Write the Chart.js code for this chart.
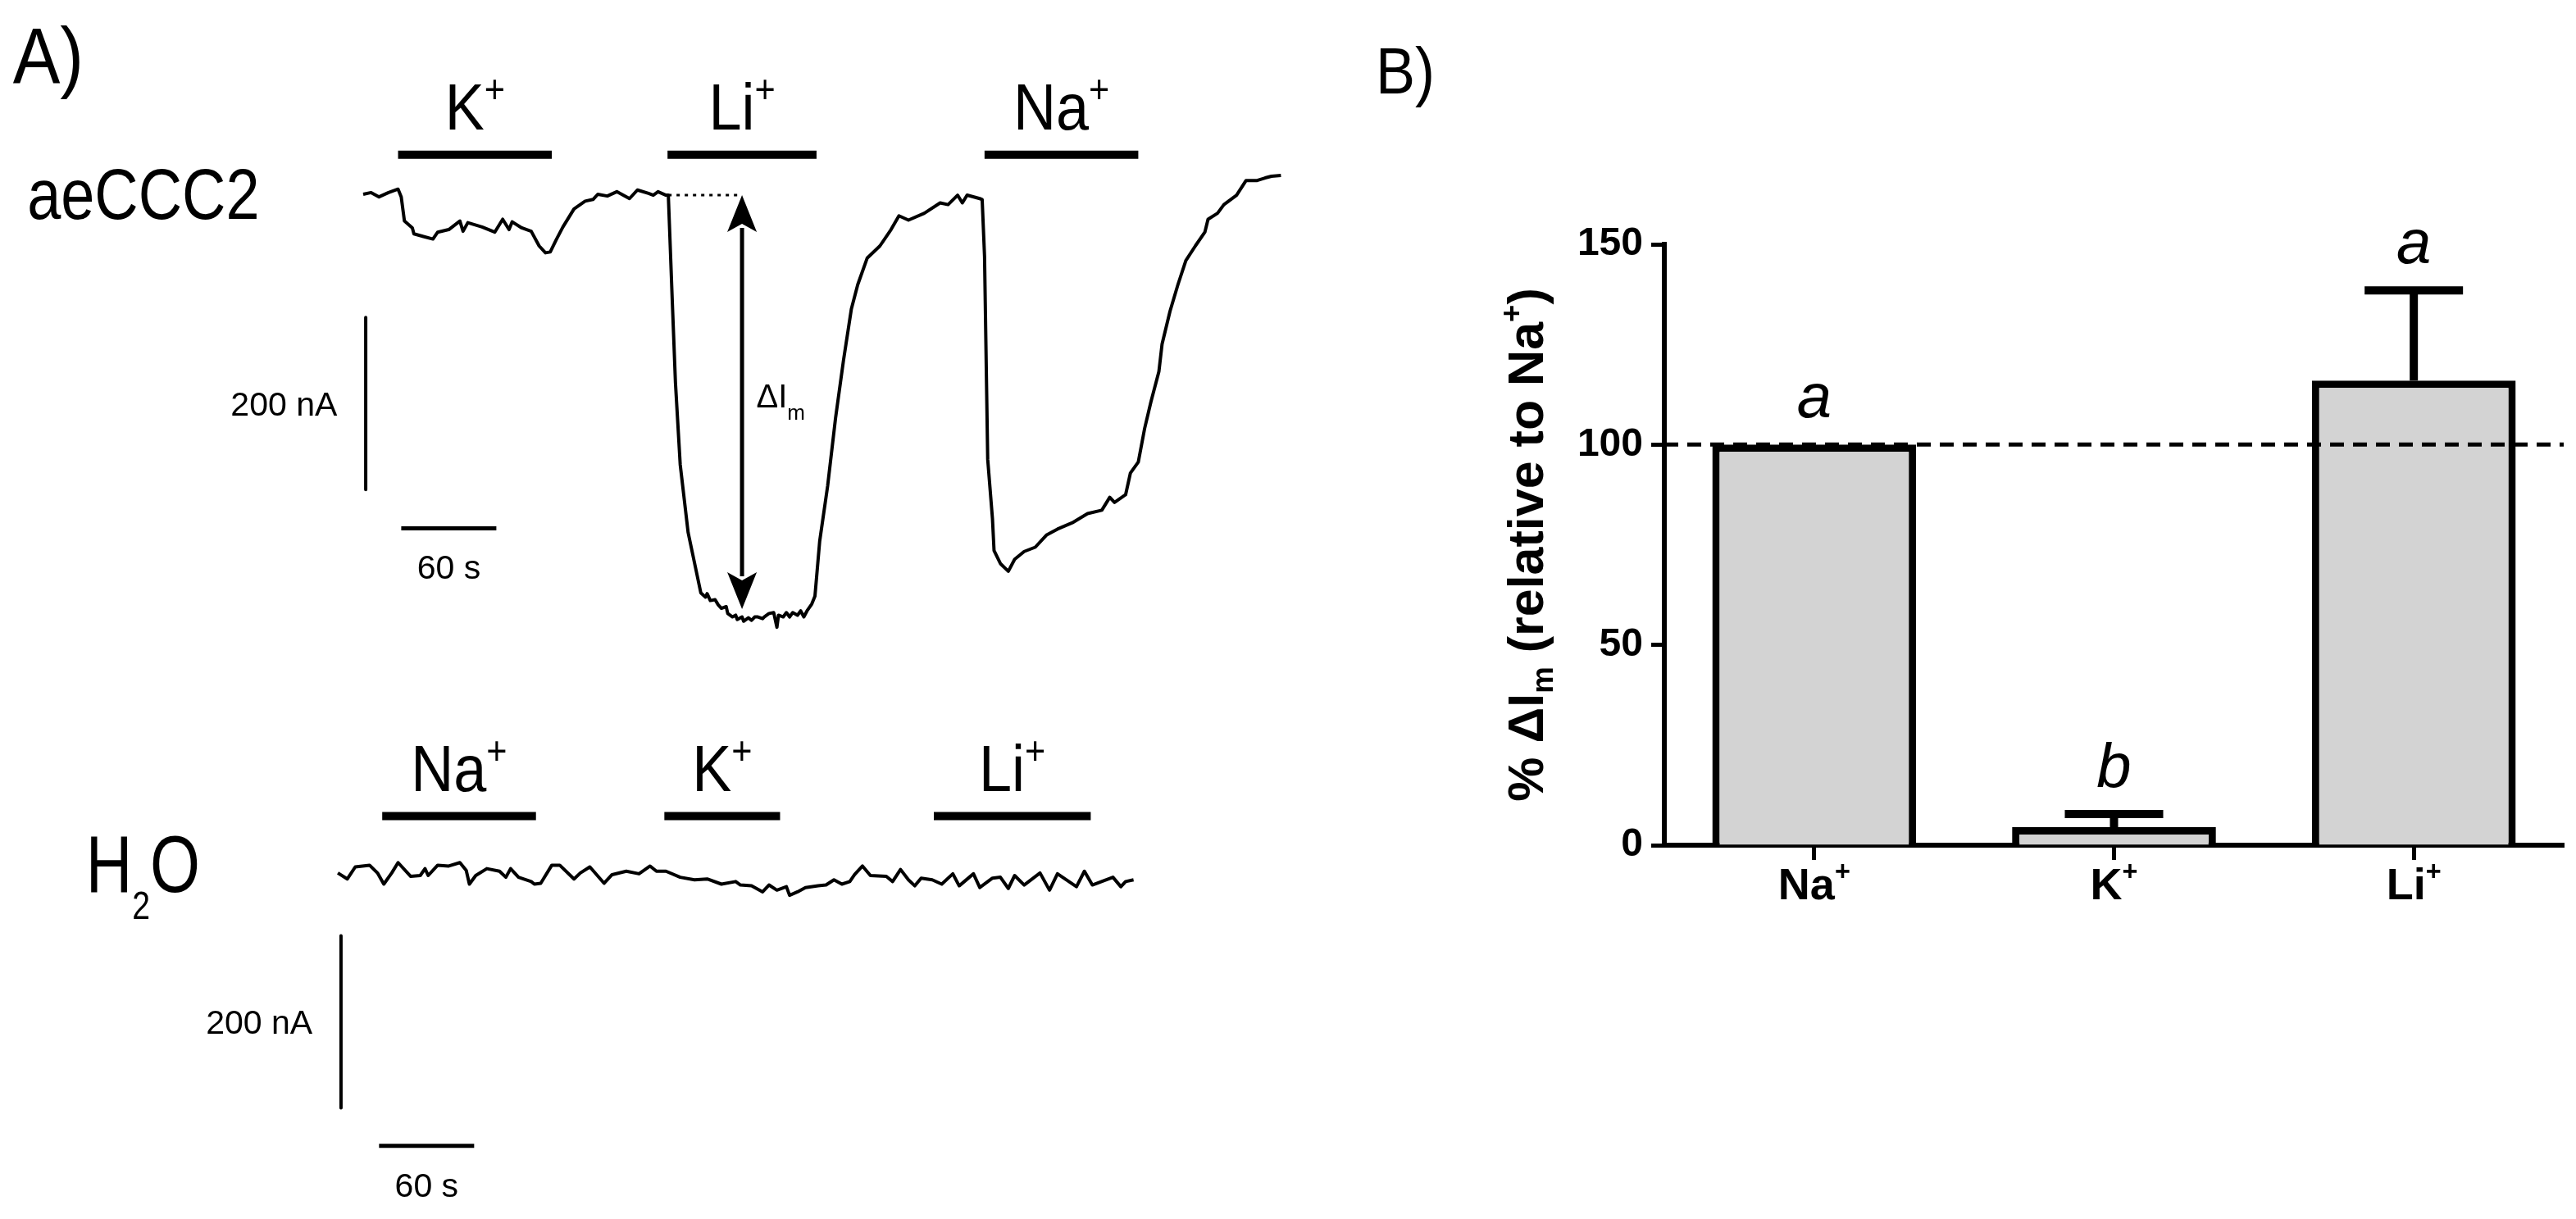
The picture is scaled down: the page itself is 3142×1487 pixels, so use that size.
<!DOCTYPE html>
<html>
<head>
<meta charset="utf-8">
<script src="https://cdn.jsdelivr.net/npm/chart.js@4.4.1/dist/chart.umd.min.js"></script>
<style>
  html, body { margin: 0; padding: 0; background: #fff; }
  body { width: 3142px; height: 1487px; position: relative; overflow: hidden; }
  canvas { position: absolute; }
</style>
</head>
<body>
<canvas id="traceTop" width="1640" height="790" style="left:0;top:0"></canvas>
<canvas id="traceH2O" width="1640" height="697" style="left:0;top:790px"></canvas>
<canvas id="barChart" width="1492" height="1487" style="left:1650px;top:0"></canvas>
<script>
// ========== Dados ==========
// Painel A: corrente (nA) x tempo (s), oócito aeCCC2
const aeCCC2Trace = [
  [0,0],[5,2],[10,-3],[16,2],[22,6],[24,-3],[26,-31],[31,-39],[32,-46],[38,-49],[44,-52],[47,-44],
  [54,-41],[61,-31],[63,-43],[66,-33],[75,-38],[83,-44],[88,-29],[92,-41],[94,-32],[100,-39],
  [106,-43],[111,-60],[115,-68],[118,-67],[122,-52],[126,-38],[133,-17],[140,-8],[145,-6],[148,0],
  [154,-2],[160,3],[168,-5],[173,5],[180,1],[183,-1],[186,3],[191,-1],[192.5,-1],
  [195,-124],[197,-219],[200,-314],[205,-393],[213,-463],[216,-468],[217,-464],[219,-472],[222,-471],
  [224,-477],[226,-481],[229,-479],[230,-487],[233,-491],[235,-489],[236,-494],[239,-491],[240,-496],
  [243,-492],[245,-495],[247,-491],[249,-491],[252,-493],[253,-491],[256,-487],[259,-486],[261,-503],
  [262,-489],[265,-491],[267,-486],[269,-491],[271,-486],[274,-489],[276,-484],[278,-491],[280,-484],
  [283,-476],[285,-467],
  [288,-403],[293,-339],[298,-260],[303,-193],[308,-133],[312,-105],[318,-74],[326,-60],[333,-41],
  [338,-25],[344,-30],[354,-22],[364,-10],[369,-12],[375,-1],[378,-10],[381,-1],[389,-5],[390.5,-6],
  [392,-72],[394,-308],[397,-377],[398,-414],[402,-429],[407,-438],[411,-424],[417,-415],[424,-410],
  [431,-396],[438,-389],[448,-381],[457,-371],[466,-367],[471,-352],[474,-358],[481,-349],[484,-324],
  [489,-311],[493,-272],[497,-241],[502,-206],[504,-174],[509,-136],[514,-105],[519,-77],[525,-60],
  [531,-44],[533,-29],[539,-22],[543,-12],[551,-1],[557,16],[564,16],[569,19],[573,21],[579,22]
];
// Painel A: oócito injetado com água
const h2oTrace = [
  [-16,3],[-10,-4],[-5,10],[4,12],[9,3],[13,-10],[18,3],[22,15],[30,-1],[36,0],[39,8],[41,0],
  [47,12],[54,11],[61,15],[65,6],[67,-10],[71,0],[78,8],[86,5],[90,-2],[93,8],[98,-2],[106,-7],
  [108,-10],[112,-9],[119,12],[124,12],[133,-4],[137,3],[143,10],[152,-9],[157,1],[166,5],[174,2],
  [181,11],[185,5],[191,5],[200,-2],[209,-5],[217,-4],[226,-10],[235,-7],[238,-11],[245,-12],
  [252,-19],[256,-11],[261,-17],[267,-13],[269,-23],[274,-19],[279,-14],[287,-12],[292,-11],
  [297,-5],[302,-10],[307,-7],[310,1],[315,11],[320,0],[330,-1],[334,-7],[339,7],[344,-5],
  [348,-12],[352,-3],[359,-5],[365,-10],[372,2],[376,-12],[385,2],[389,-14],[397,-3],[402,-2],
  [407,-15],[411,0],[417,-11],[427,3],[433,-17],[438,2],[450,-13],[455,5],[460,-11],[473,-2],
  [478,-13],[481,-7],[486,-5]
];
// aplicações de íons: [íon, início (s), fim (s)]
const aeCCC2Pulses = [['K', 22, 119], ['Li', 192, 286], ['Na', 392, 489]];
const h2oPulses = [['Na', 12, 109], ['K', 190, 263], ['Li', 360, 459]];
const scaleBarNA = 200;
const scaleBarS = 60;

// Painel B: % ΔIm relativo ao Na+
const ionLabels = ['Na', 'K', 'Li'];
const relCurrent = [100, 4.5, 116];
const relSEM = [0, 3.3, 22.5];
const statLetters = ['a', 'b', 'a'];
const yTicks = [0, 50, 100, 150];

// ========== Escalas do painel A ==========
const PX_PER_S = 116 / 60;
const PX_PER_NA = 1.05;
const FONT_A = '"Liberation Sans", Arial, sans-serif';

// ========== Funções auxiliares ==========
function drawRich(ctx, x, y, parts, size, o = {}) {
  const fam = o.family || FONT_A;
  const small = o.smallScale || 0.6;
  const font = s => `${o.style || 'normal'} ${o.weight || 'normal'} ${s}px ${fam}`;
  let w = 0;
  parts.forEach(p => {
    ctx.font = font(p[1] ? size * small : size);
    w += ctx.measureText(p[0]).width;
  });
  ctx.save();
  ctx.translate(x, y);
  if (o.rotate) ctx.rotate(o.rotate);
  ctx.scale(o.scaleX || 1, 1);
  let cx = o.align === 'center' ? -w / 2 : o.align === 'right' ? -w : 0;
  const by = o.middle ? size * 0.36 : 0;
  ctx.fillStyle = '#000';
  ctx.textAlign = 'left';
  ctx.textBaseline = 'alphabetic';
  parts.forEach(p => {
    ctx.font = font(p[1] ? size * small : size);
    const dy = p[1] === 'sup' ? -size * 0.42 : p[1] === 'sub' ? size * (o.subDy || 0.2) : 0;
    ctx.fillText(p[0], cx, by + dy);
    cx += ctx.measureText(p[0]).width;
  });
  ctx.restore();
}

const traceText = {
  id: 'traceText',
  afterDatasetsDraw(chart, args, opts) {
    const { ctx, scales: { x, y } } = chart;
    (opts.items || []).forEach(it => {
      drawRich(ctx, x.getPixelForValue(it.t), y.getPixelForValue(it.v), it.parts, it.size, it);
    });
    if (opts.arrow) {
      const a = opts.arrow;
      const ax = x.getPixelForValue(a.t);
      const y1 = y.getPixelForValue(a.from), y2 = y.getPixelForValue(a.to);
      const head = 45, half = 18;
      ctx.save();
      ctx.strokeStyle = '#000';
      ctx.fillStyle = '#000';
      ctx.lineWidth = 5;
      ctx.beginPath();
      ctx.moveTo(ax, y1 + head - 5);
      ctx.lineTo(ax, y2 - head + 5);
      ctx.stroke();
      ctx.beginPath();
      ctx.moveTo(ax, y1); ctx.lineTo(ax - half, y1 + head); ctx.lineTo(ax, y1 + head - 10); ctx.lineTo(ax + half, y1 + head);
      ctx.closePath(); ctx.fill();
      ctx.beginPath();
      ctx.moveTo(ax, y2); ctx.lineTo(ax - half, y2 - head); ctx.lineTo(ax, y2 - head + 10); ctx.lineTo(ax + half, y2 - head);
      ctx.closePath(); ctx.fill();
      ctx.restore();
    }
  }
};

function lineSet(points, width, dash) {
  return {
    data: points.map(([t, v]) => ({ x: t, y: v })),
    borderColor: '#000', borderWidth: width, borderDash: dash || [],
    pointRadius: 0, tension: 0, borderCapStyle: 'butt', borderJoinStyle: 'round', fill: false
  };
}

function traceChart(canvasId, trace, pulses, pulseLevel, originY, bars, items, arrow, extra) {
  const cv = document.getElementById(canvasId);
  const xMin = -443 / PX_PER_S;
  const yMax = originY / PX_PER_NA;
  const datasets = [lineSet(trace, 4)];
  pulses.forEach(p => datasets.push(lineSet([[p[1], pulseLevel], [p[2], pulseLevel]], 10)));
  datasets.push(lineSet([[bars.vt, bars.vTop], [bars.vt, bars.vTop - scaleBarNA]], 4));
  datasets.push(lineSet([[bars.ht, bars.hv], [bars.ht + scaleBarS, bars.hv]], 5));
  (extra || []).forEach(d => datasets.push(d));
  pulses.forEach(p => items.push({
    t: (p[1] + p[2]) / 2, v: pulseLevel + 29, parts: [[p[0], ''], ['+', 'sup']],
    size: 80, align: 'center', scaleX: 0.9
  }));
  items.push({ t: bars.vt - 18, v: bars.vTop - scaleBarNA / 2, parts: [[scaleBarNA + ' nA', '']], size: 41, align: 'right', middle: true });
  items.push({ t: bars.ht + scaleBarS / 2, v: bars.hv - 45, parts: [[scaleBarS + ' s', '']], size: 41, align: 'center', middle: true });
  return new Chart(cv, {
    type: 'line',
    data: { datasets },
    options: {
      responsive: false, animation: false, devicePixelRatio: 1,
      layout: { padding: 0 },
      plugins: { legend: { display: false }, tooltip: { enabled: false }, traceText: { items, arrow } },
      scales: {
        x: { type: 'linear', display: false, min: xMin, max: xMin + cv.width / PX_PER_S },
        y: { type: 'linear', display: false, max: yMax, min: yMax - cv.height / PX_PER_NA }
      }
    },
    plugins: [traceText]
  });
}

// ========== Painel A ==========
traceChart('traceTop', aeCCC2Trace, aeCCC2Pulses, 46, 237,
  { vt: 1.6, vTop: -143, ht: 24, hv: -388 },
  [
    { t: -221, v: 130, parts: [['A)', '']], size: 96, scaleX: 0.9 },
    { t: -212, v: -29, parts: [['aeCCC2', '']], size: 88, scaleX: 0.84 },
    { t: 248, v: -234, parts: [['ΔI', ''], ['m', 'sub']], size: 40, middle: true, subDy: 0.38, smallScale: 0.65 }
  ],
  { t: 239, from: -1, to: -482 },
  [lineSet([[192.5, -1], [239, -1]], 3, [4, 6])]
);

traceChart('traceH2O', h2oTrace, h2oPulses, 69, 278,
  { vt: -14, vTop: -70, ht: 10, hv: -314 },
  [
    { t: -175, v: -19, parts: [['H', ''], ['2', 'sub'], ['O', '']], size: 98, scaleX: 0.8, subDy: 0.34, smallScale: 0.5 }
  ],
  null
);

// ========== Painel B ==========
const barExtras = {
  id: 'barExtras',
  afterDatasetsDraw(chart) {
    const { ctx, chartArea: ca, scales: { x, y } } = chart;
    const meta = chart.getDatasetMeta(0);
    ctx.save();
    // linha tracejada em 100 %
    ctx.strokeStyle = '#000';
    ctx.lineWidth = 5;
    ctx.setLineDash([17, 11]);
    ctx.beginPath();
    ctx.moveTo(ca.left, y.getPixelForValue(100));
    ctx.lineTo(ca.right, y.getPixelForValue(100));
    ctx.stroke();
    ctx.setLineDash([]);
    // barras de erro (SEM, só para cima)
    ctx.lineWidth = 10;
    meta.data.forEach((bar, i) => {
      const top = y.getPixelForValue(relCurrent[i]);
      const err = y.getPixelForValue(relCurrent[i] + relSEM[i]);
      if (relSEM[i] > 0) {
        ctx.beginPath();
        ctx.moveTo(bar.x, top);
        ctx.lineTo(bar.x, err);
        ctx.moveTo(bar.x - 60, err);
        ctx.lineTo(bar.x + 60, err);
        ctx.stroke();
      }
      drawRich(ctx, bar.x, err - 33, [[statLetters[i], '']], 76, { style: 'italic', align: 'center' });
      drawRich(ctx, x.getPixelForValue(i), ca.bottom + 66, [[ionLabels[i], ''], ['+', 'sup']], 54, { weight: 'bold', align: 'center' });
    });
    // título do eixo y
    drawRich(ctx, ca.left - 170, (ca.top + ca.bottom) / 2,
      [['% ΔI', ''], ['m', 'sub'], [' (relative to Na', ''], ['+', 'sup'], [')', '']],
      61, { weight: 'bold', align: 'center', middle: true, rotate: -Math.PI / 2 });
    // rótulo do painel
    drawRich(ctx, 28, 114, [['B)', '']], 80, { scaleX: 0.9 });
    ctx.restore();
  }
};

new Chart(document.getElementById('barChart'), {
  type: 'bar',
  data: {
    labels: ionLabels,
    datasets: [{
      data: relCurrent, backgroundColor: '#d3d3d3', borderColor: '#000', borderWidth: 9,
      barPercentage: 0.68, categoryPercentage: 1
    }]
  },
  options: {
    responsive: false, animation: false, devicePixelRatio: 1,
    layout: { padding: { left: 0, top: 298, right: 15, bottom: 0 } },
    plugins: { legend: { display: false }, tooltip: { enabled: false } },
    scales: {
      x: {
        afterFit: s => { s.height = 456; },
        grid: { offset: false, drawOnChartArea: false, tickLength: 18, tickWidth: 5, tickColor: '#000' },
        border: { color: '#000', width: 6 },
        ticks: { color: 'rgba(0,0,0,0)' }
      },
      y: {
        min: 0, max: 150,
        afterFit: s => { s.width = 380; },
        afterBuildTicks: s => { s.ticks = yTicks.map(v => ({ value: v })); },
        grid: { drawOnChartArea: false, tickLength: 16, tickWidth: 5, tickColor: '#000' },
        border: { color: '#000', width: 6 },
        ticks: { color: '#000', padding: 10, font: { family: FONT_A, weight: 'bold', size: 48 } }
      }
    }
  },
  plugins: [barExtras]
});
</script>
</body>
</html>
